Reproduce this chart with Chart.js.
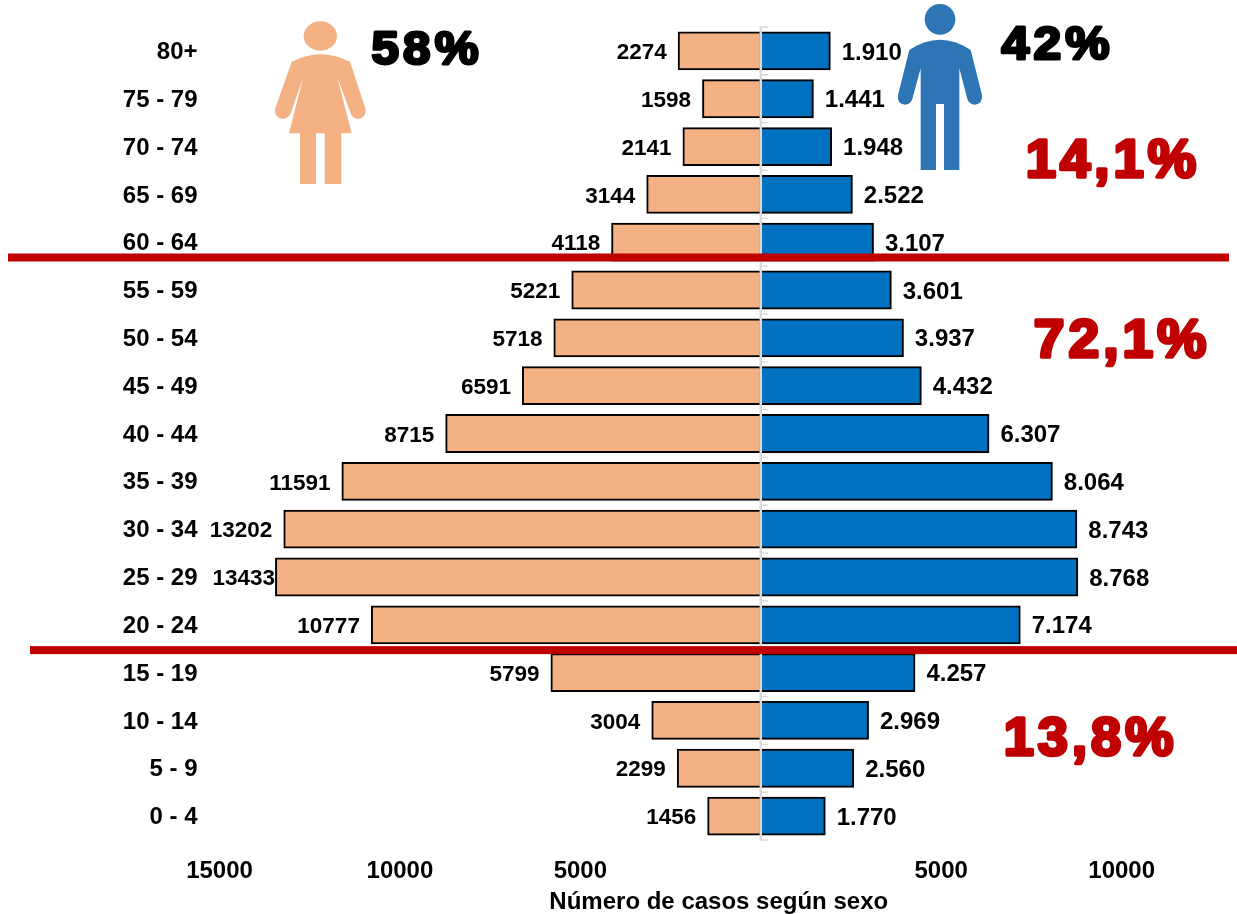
<!DOCTYPE html>
<html><head><meta charset="utf-8">
<style>html,body{margin:0;padding:0;background:#fff}canvas{display:block}</style>
<script src="https://cdn.jsdelivr.net/npm/chart.js@4"></script>
</head><body><canvas id="c" width="1237" height="914"></canvas>
<script>
const ageGroups = ['80+','75 - 79','70 - 74','65 - 69','60 - 64','55 - 59','50 - 54','45 - 49','40 - 44','35 - 39','30 - 34','25 - 29','20 - 24','15 - 19','10 - 14','5 - 9','0 - 4'];
const mujeres = [2274,1598,2141,3144,4118,5221,5718,6591,8715,11591,13202,13433,10777,5799,3004,2299,1456];
const hombres = [1910,1441,1948,2522,3107,3601,3937,4432,6307,8064,8743,8768,7174,4257,2969,2560,1770];
const xTickValues = [-15000,-10000,-5000,5000,10000];
const axisTitle = 'Número de casos según sexo';
const FONT = '"Liberation Sans", Arial, sans-serif';
const PEACH = '#F4B183', BLUE = '#0070C0', RED = '#C00000';

function heavyText(ctx, text, left, right, baseline, px, color, stroke, spacing){
  ctx.save();
  ctx.font = 'bold ' + px + 'px ' + FONT;
  ctx.letterSpacing = spacing + 'px';
  ctx.textAlign = 'left'; ctx.textBaseline = 'alphabetic';
  const w = ctx.measureText(text).width - spacing;
  ctx.translate(left + stroke/2, baseline);
  ctx.scale((right - left - stroke) / w, 1);
  ctx.fillStyle = color; ctx.strokeStyle = color; ctx.lineWidth = stroke; ctx.lineJoin = 'round';
  ctx.strokeText(text, 0, 0); ctx.fillText(text, 0, 0);
  ctx.restore();
}
function woman(ctx){
  ctx.save(); ctx.translate(260,0); ctx.scale(1/3,1/3); ctx.fillStyle = '#F4B183';
  ctx.beginPath(); ctx.ellipse(181,108,50,44,0,0,Math.PI*2); ctx.fill();
  ctx.beginPath(); ctx.moveTo(95,185); ctx.quadraticCurveTo(181,140,270,185);
  ctx.lineTo(316,325); ctx.quadraticCurveTo(322,352,295,357); ctx.quadraticCurveTo(278,357,272,340);
  ctx.lineTo(232,232); ctx.lineTo(275,400); ctx.lineTo(244,400); ctx.lineTo(244,552); ctx.lineTo(194,552);
  ctx.lineTo(194,400); ctx.lineTo(168,400); ctx.lineTo(168,552); ctx.lineTo(120,552); ctx.lineTo(120,400);
  ctx.lineTo(87,400); ctx.lineTo(130,232); ctx.lineTo(92,340); ctx.quadraticCurveTo(84,357,66,357);
  ctx.quadraticCurveTo(40,350,46,325); ctx.closePath(); ctx.fill(); ctx.restore();
}
function man(ctx){
  ctx.save(); ctx.translate(880,0); ctx.scale(1/3,1/3); ctx.fillStyle = '#2E75B6';
  ctx.beginPath(); ctx.arc(180,58,46,0,Math.PI*2); ctx.fill();
  ctx.beginPath(); ctx.moveTo(88,150); ctx.quadraticCurveTo(180,88,272,150);
  ctx.lineTo(306,285); ctx.quadraticCurveTo(308,312,285,314); ctx.quadraticCurveTo(266,313,262,297);
  ctx.lineTo(238,205); ctx.lineTo(238,510); ctx.lineTo(192,510); ctx.lineTo(192,312); ctx.lineTo(168,312);
  ctx.lineTo(168,510); ctx.lineTo(122,510); ctx.lineTo(122,205); ctx.lineTo(97,297);
  ctx.quadraticCurveTo(92,313,75,314); ctx.quadraticCurveTo(50,312,54,285); ctx.closePath(); ctx.fill(); ctx.restore();
}
const overlay = {
  id:'overlay',
  afterDatasetsDraw(chart){
    const ctx = chart.ctx, x = chart.scales.x, y = chart.scales.y, x0 = x.getPixelForValue(0);
    ctx.save();
    // central axis
    ctx.strokeStyle = '#D9D9D9'; ctx.lineWidth = 2.5;
    ctx.beginPath(); ctx.moveTo(x0, y.top); ctx.lineTo(x0, y.bottom); ctx.stroke();
    ctx.lineWidth = 1.5;
    for (let i = 0; i <= ageGroups.length; i++){
      const py = y.top + (y.bottom - y.top) * i / ageGroups.length;
      ctx.beginPath(); ctx.moveTo(x0, py); ctx.lineTo(x0 + 7, py); ctx.stroke();
    }
    // value labels
    ctx.fillStyle = '#000'; ctx.textBaseline = 'middle';
    ageGroups.forEach((g, i) => {
      const py = y.getPixelForValue(i) + 2;
      ctx.font = 'bold 22.5px ' + FONT; ctx.textAlign = 'right';
      ctx.fillText(String(mujeres[i]), x.getPixelForValue(-mujeres[i]) - (mujeres[i] === 13433 ? 1 : 12), py);
      ctx.font = 'bold 24px ' + FONT; ctx.textAlign = 'left';
      const s = String(hombres[i]).replace(/(\d)(\d{3})$/, '$1.$2');
      ctx.fillText(s, x.getPixelForValue(hombres[i]) + 12, py);
    });
    // separators
    ctx.fillStyle = RED;
    const l1 = y.getPixelForValue(4.32), l2 = y.getPixelForValue(12.53);
    ctx.fillRect(8, l1 - 4, 1221, 8);
    ctx.fillRect(30, l2 - 4, 1207, 8);
    ctx.restore();
    woman(ctx); man(ctx);
    heavyText(ctx,'58%',370,480,63.5,47,'#000',3,4);
    heavyText(ctx,'42%',1000,1111,58.5,47,'#000',3,4);
    heavyText(ctx,'14,1%',1024,1198,176.5,54,RED,3.5,4);
    heavyText(ctx,'72,1%',1032,1208,356.6,54,RED,3.5,4);
    heavyText(ctx,'13,8%',1002,1175,755,54,RED,3.5,4);
  }
};
new Chart(document.getElementById('c'), {
  type:'bar',
  data:{ labels: ageGroups, datasets:[
    {label:'Mujeres', data: mujeres.map(v => -v), backgroundColor: PEACH, borderColor:'#000', borderWidth:2, borderSkipped:false, inflateAmount:1},
    {label:'Hombres', data: hombres, backgroundColor: BLUE, borderColor:'#000', borderWidth:2, borderSkipped:false, inflateAmount:1}
  ]},
  plugins:[overlay],
  options:{
    indexAxis:'y', responsive:false, animation:false,
    layout:{padding:{top:27,right:19,bottom:0,left:0}},
    categoryPercentage:0.77, barPercentage:1,
    plugins:{legend:{display:false},tooltip:{enabled:false}},
    scales:{
      y:{ stacked:true, grid:{display:false,drawTicks:false}, border:{display:false},
          ticks:{color:'#000',font:{family:FONT,size:24,weight:'bold'},padding:22,autoSkip:false,labelOffset:1.5},
          afterFit(s){ s.width = 219.5; s.paddingTop = 0; s.paddingBottom = 0; } },
      x:{ stacked:true, min:-15000, max:12670, grid:{display:false,drawTicks:false}, border:{display:false},
          afterBuildTicks(s){ s.ticks = xTickValues.map(v => ({value:v})); },
          ticks:{color:'#000',font:{family:FONT,size:24,weight:'bold'},padding:17,maxRotation:0,autoSkip:false,
                 callback:v => String(Math.abs(v))},
          title:{display:true,text:axisTitle,color:'#000',font:{family:FONT,size:24,weight:'bold',lineHeight:1},padding:{top:0,bottom:0}},
          afterFit(s){ s.height = 74; } }
    }
  }
});
</script></body></html>
